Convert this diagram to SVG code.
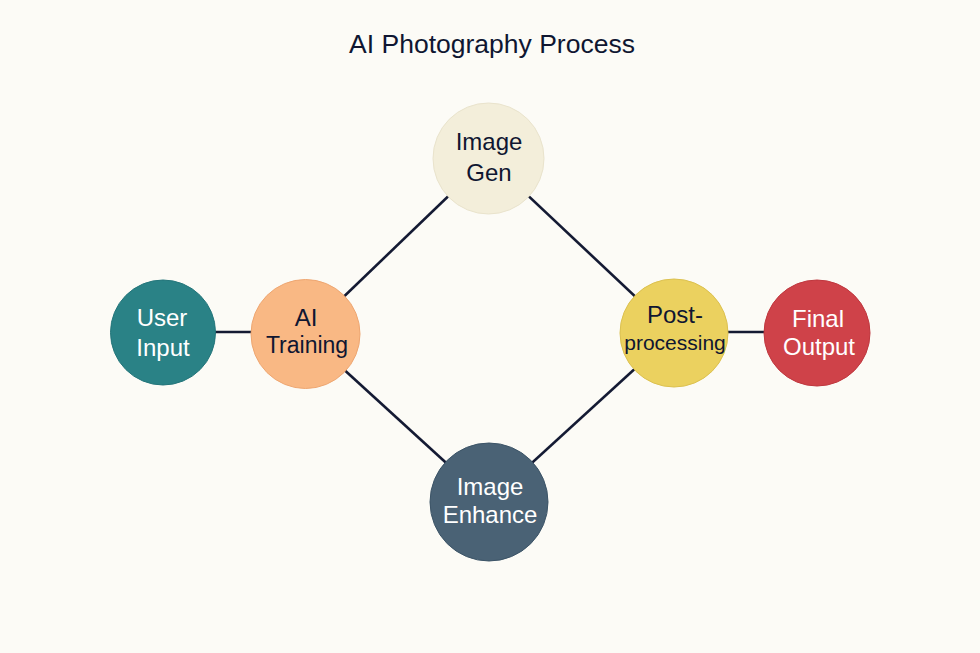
<svg xmlns="http://www.w3.org/2000/svg" width="980" height="653" viewBox="0 0 980 653">
<style>
.bg{fill:#FCFBF6}
.edge{stroke:#141a33;stroke-width:2.6;fill:none}
.node{stroke-width:1}
text{font-family:"Liberation Sans",Arial,sans-serif;text-anchor:middle}
.dark{fill:#0f1631}
.light{fill:#ffffff}
.t{font-size:24px}
.title{font-size:26.5px;fill:#0f1631}
</style>
<rect class="bg" x="0" y="0" width="980" height="653"/>
<text class="title" x="492" y="53">AI Photography Process</text>
<g id="connectors">
<line class="edge" x1="163" y1="332" x2="305" y2="332"/>
<line class="edge" x1="305" y1="334" x2="488" y2="158"/>
<line class="edge" x1="488" y1="158" x2="674" y2="333"/>
<line class="edge" x1="305" y1="334" x2="489" y2="502"/>
<line class="edge" x1="674" y1="333" x2="489" y2="502"/>
<line class="edge" x1="674" y1="332" x2="817" y2="332"/>
</g>
<g id="user-input">
<circle class="node" cx="163" cy="332.5" r="52.5" fill="#2A8286" stroke="#23757a"/>
<text class="t light" x="162" y="326">User</text>
<text class="t light" x="163" y="356">Input</text>
</g>
<g id="ai-training">
<circle class="node" cx="305.5" cy="334" r="54.5" fill="#F9B884" stroke="#eea671"/>
<text class="t dark" x="306" y="326">AI</text>
<text class="t dark" x="307" y="353" style="font-size:23px">Training</text>
</g>
<g id="image-gen">
<circle class="node" cx="488.5" cy="158.5" r="55.5" fill="#F3EEDA" stroke="#e9e3cc"/>
<text class="t dark" x="489" y="150">Image</text>
<text class="t dark" x="489" y="181">Gen</text>
</g>
<g id="post-processing">
<circle class="node" cx="674" cy="333" r="54" fill="#EBD15F" stroke="#dcc150"/>
<text class="t dark" x="675" y="323">Post-</text>
<text class="t dark" x="675" y="350" style="font-size:21px">processing</text>
</g>
<g id="final-output">
<circle class="node" cx="817" cy="333" r="53" fill="#CF4249" stroke="#bf373e"/>
<text class="t light" x="818" y="327">Final</text>
<text class="t light" x="819" y="355">Output</text>
</g>
<g id="image-enhance">
<circle class="node" cx="489" cy="502" r="59" fill="#4A6275" stroke="#3c5467"/>
<text class="t light" x="490" y="495">Image</text>
<text class="t light" x="490" y="523">Enhance</text>
</g>
</svg>
